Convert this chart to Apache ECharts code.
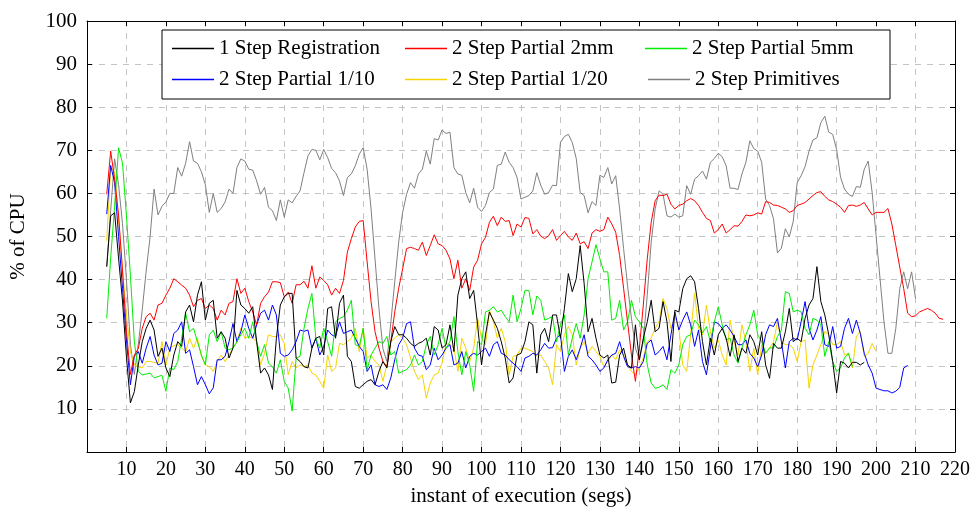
<!DOCTYPE html>
<html>
<head>
<meta charset="utf-8">
<script src="https://cdn.jsdelivr.net/npm/echarts@6/dist/echarts.min.js"></script>
<style>
  html, body { margin: 0; padding: 0; background: #fff; }
  #chart { width: 973px; height: 512px; }
</style>
</head>
<body>
<div id="chart"></div>
<script>
(function() {
  // every series is sampled once per second, starting at t = 5
  var xStart = 5;

  var names = [
    '1 Step Registration', '2 Step Partial 2mm', '2 Step Partial 5mm',
    '2 Step Partial 1/10', '2 Step Partial 1/20', '2 Step Primitives'
  ];
  var colors = ['#000000', '#ff0000', '#00ee00', '#0000ff', '#f5d400', '#808080'];

  var oneStep = [
    43, 54.8, 55.5, 45, 35, 22, 11.4, 14, 20.2, 25.6, 28.7, 30.6, 28.3, 22.2, 24.1, 19.5,
    17.5, 22.5, 25.6, 24.5, 32.5, 34.1, 30.2, 36.4, 39.5, 30.6, 34.5, 35.2, 26.4, 27.9,
    26.4, 21.8, 24.1, 37.5, 34.1, 33.3, 32.2, 33.7, 25.6, 18.3, 19.5, 17.9, 14.5, 26.4,
    34.1, 36, 36.8, 36.8, 21.8, 21, 19.8, 19.5, 24.1, 26.4, 26.8, 22.5, 33.3, 33.7,
    26.4, 34.5, 36.4, 22.2, 21, 15.2, 14.8, 15.6, 16.4, 16.8, 15.6, 18.7, 21, 19.5,
    25.6, 29.1, 27.2, 27.2, 26.4, 25.2, 24.5, 25.2, 25.6, 26.4, 22.5, 29.1, 28.3, 24.1,
    24.9, 29.5, 23.3, 36.4, 40.2, 41.8, 35.6, 37.5, 29.5, 20.2, 27.2, 32.5, 30.6, 28.7,
    25.6, 21.8, 16, 17.2, 22.5, 22.9, 25.6, 30.2, 29.5, 18.3, 27.2, 28.7, 25.6, 31.8,
    31.8, 26.4, 33.3, 41.4, 37.2, 40.2, 47.9, 39.1, 27.9, 31, 26.4, 22.5, 21.8, 22.5,
    16, 16.2, 22.5, 24.1, 20.2, 19.5, 29.5, 21.4, 26.4, 30.2, 35.2, 27.9, 28.7, 34.9,
    30.2, 21, 32.9, 32.5, 37.9, 40.2, 40.9, 39.5, 33.3, 25.6, 20.2, 26.4, 22.5, 27.2,
    28.7, 26.4, 22.2, 27.2, 21, 24.1, 22.9, 27.2, 25.6, 22.5, 27.9, 20.2, 17.1, 25.2,
    24.1, 24.1, 27.9, 33.3, 25.6, 26.4, 25.6, 31, 34.1, 35.6, 43, 34.9, 31.8, 27.2,
    21, 13.7, 21, 20.6, 19.5, 20.8, 20.8, 20.2, 20.8
  ];

  var partial2mm = [
    59.8, 69.8, 63.3, 55, 42, 28, 18, 22.5, 24, 28.7, 31.4, 32.2, 30.6, 34.1, 34.5, 36.4,
    38, 40.2, 39.5, 38.7, 38, 36.4, 33.7, 35.2, 35.6, 33.3, 34.1, 33.3, 30.6, 32.9,
    31.8, 34.5, 34.9, 40.2, 36.8, 38, 34.9, 32.5, 29.5, 34.5, 36, 37.1, 39.5, 39.5,
    39.3, 36, 37.1, 34.5, 38.8, 38.8, 39.6, 38, 43.2, 38, 40.6, 39.8, 38.8, 36.4, 38,
    36.8, 39.8, 46.4, 49.5, 52.2, 53.5, 53.7, 44.1, 34.9, 27.9, 24.1, 21, 19.8, 25.6,
    32.5, 38, 42.5, 47.2, 47.5, 47.2, 46.8, 48.7, 45.6, 47.9, 50.4, 48.3, 47.9, 46.8,
    44.8, 40.2, 44.5, 38, 40.2, 37.5, 42.9, 44.5, 48.3, 49.8, 53.3, 54.7, 52.5, 54.5,
    53.5, 53.7, 50.2, 52.9, 52.2, 54.4, 54.2, 50.6, 51.6, 50.1, 49.5, 50.2, 51.6, 49.1,
    50.2, 51.2, 49.9, 49.1, 50.8, 48.3, 48.8, 47.2, 50.8, 51.6, 51.2, 51.6, 54.5, 52.9,
    51, 45.6, 38, 30.2, 22.5, 16.4, 24.1, 34.1, 44.8, 53.3, 58.3, 59.6, 59.5, 59.8,
    57.5, 56.4, 57.2, 57.5, 58.3, 58.8, 58.3, 57.2, 55.6, 54.2, 53.7, 50.8, 51.6, 52.9,
    50.8, 51.6, 52.5, 52.4, 53.5, 55, 54.8, 55, 55.5, 55.2, 58.1, 57.9, 57.3, 57.2,
    56.8, 56.4, 55.6, 56, 57.2, 57.5, 57.9, 58.7, 59.5, 60.2, 60.4, 59.3, 58.5, 58.1,
    57.5, 56.8, 55.6, 57.2, 57.3, 57, 57.3, 57.9, 56.4, 55, 55.6, 55.6, 55.6, 56.5,
    52.9, 47.9, 42.9, 37.9, 32.2, 31.4, 31.6, 32.5, 32.9, 33.3, 32.9, 32.2, 31, 30.8
  ];

  var partial5mm = [
    31, 45, 57, 70.6, 67, 54.8, 41, 25.6, 18.7, 17.9, 18.1, 18.3, 17.2, 17.5, 17.8, 14.1,
    19.5, 19.1, 21, 26.4, 32.2, 27.9, 28.7, 25.6, 22.5, 20.2, 27.2, 28.3, 25.6, 27.9,
    24.1, 23.7, 24.1, 25.6, 27.2, 28.7, 26.4, 30.2, 25.6, 22.2, 24.9, 20.6, 19.8, 18.3,
    21.4, 16.4, 14.8, 9.5, 21.8, 22.2, 28.7, 33.3, 36.8, 26.4, 24.1, 28.7, 25.6, 22.2,
    30.2, 31, 31.4, 32.9, 35.2, 24.9, 24.5, 28.7, 19.1, 22.5, 24.1, 25.6, 25.2, 26.8,
    22.5, 23.3, 18.3, 18.7, 19.1, 20.2, 22.5, 20.2, 21, 24.9, 26.8, 22.5, 24.9, 28.7,
    24.1, 25.6, 31.4, 23.3, 17.9, 23.3, 20.2, 14.1, 25.6, 24.9, 32.5, 32.9, 33.7, 32.5,
    32.9, 31.4, 30.2, 36.4, 30.2, 33.3, 37.5, 37.5, 31.8, 36.2, 35.2, 30.6, 31, 31.4,
    25.6, 29.5, 31.8, 22.5, 26.4, 29.8, 26.4, 31.8, 40.2, 44.1, 48.1, 44.8, 41.8, 41.8,
    30.6, 31, 35.2, 28.3, 30.2, 35.2, 31.4, 30.2, 28.7, 20.2, 16, 14.8, 15, 15.6, 14.5,
    19.1, 18.3, 20.2, 24.9, 26.8, 27.2, 30.6, 29.5, 27.6, 29.1, 25.6, 30.2, 33.7, 29.5,
    26, 26.4, 22.5, 20.6, 24.1, 27.2, 29.5, 32.9, 27.2, 25.6, 22.9, 24.2, 24.1, 26.8,
    28.3, 37.2, 36.8, 32.5, 32.9, 32.5, 28.7, 27.2, 31, 30.6, 29.5, 22.2, 25.6, 21,
    18.7, 19.5, 21.8, 22.9, 19.8
  ];

  var partial110 = [
    55.2, 66.5, 62.5, 50, 38, 26, 15.6, 22.2, 23.3, 20.6, 24.1, 26.8, 22.5, 20.2, 20.6, 25.6,
    23.3, 27.5, 28.3, 30.2, 22.9, 23.7, 19.8, 15.6, 17.5, 15.6, 13.5, 14.9, 21.4, 21.4,
    22.2, 25.6, 29.8, 25.6, 27.9, 31.8, 28.7, 26.4, 29.5, 32.2, 32.9, 30.6, 34.1, 31.8,
    22.9, 22.2, 22.5, 23.7, 25.6, 28.3, 28, 28.3, 24.1, 26.4, 22.5, 24.5, 28.3, 27.2,
    26.8, 30.2, 27.5, 27.9, 28.3, 26.4, 24.5, 23.3, 18.7, 20.2, 15.6, 15.2, 15.6, 14.5,
    17.2, 21.4, 24.9, 26.4, 29.8, 30.2, 24.1, 22.5, 22.2, 19.1, 20.2, 24.1, 21.4, 22.5,
    24.1, 24.9, 20.2, 20.6, 23.3, 19.5, 22.2, 22.9, 22.5, 23.3, 24.1, 22.2, 24.9, 25.6,
    22.9, 22.5, 21.4, 20.6, 19.8, 18.7, 21.8, 22.2, 22.9, 22.5, 23.7, 25.2, 24.1, 24.2,
    26.4, 27.2, 18.7, 22.2, 23.7, 21.4, 24.1, 27.2, 22.2, 21.4, 20.2, 18.7, 19.5, 21.4,
    22.5, 22.9, 25.6, 22.2, 19.8, 19.5, 19.8, 19.5, 21, 25.2, 26, 22.5, 23.3, 24.5, 21.4,
    27.2, 32.5, 28.3, 30.6, 32.5, 29.5, 24.5, 28.3, 21, 17.9, 24.1, 30.2, 29.8, 28.7,
    29.5, 28.3, 26.8, 24.9, 24.9, 26, 22.9, 21.8, 19.8, 22.5, 27.2, 29.5, 29.1, 31,
    25.6, 19.5, 25.6, 26.4, 26, 30.2, 34.9, 28.7, 26, 28.3, 31.4, 24.9, 24.5, 29.1,
    24.1, 24.5, 28.7, 31, 27.5, 30.6, 27.5, 22.9, 20.2, 18.3, 14.8, 14.5, 14.2, 14.2,
    13.7, 14.1, 15, 19.5, 20.1
  ];

  var partial120 = [
    49, 66, 65, 54, 42.5, 31.8, 23.3, 20.2, 19.8, 19.5, 21, 21, 20.8, 20.6, 25.6, 20.2,
    24.1, 24.7, 24.9, 24.1, 23.3, 26.4, 24.1, 26.4, 22.2, 20.2, 19.8, 18.7, 21, 22.5,
    21, 22.5, 24.1, 25.6, 28.7, 26.4, 26.8, 26.4, 25.6, 20.2, 22.9, 27.2, 26.8, 26.8,
    27.2, 25.2, 17.9, 21, 19.5, 20.2, 19.8, 20.2, 18.3, 17.9, 16.4, 14.8, 22.5, 18.7,
    19.5, 25.2, 24.9, 25.6, 26.4, 28.7, 23.3, 28.7, 21.8, 22.5, 21, 20.2, 16.4, 20.2,
    25.6, 26.4, 27.2, 26.4, 24.9, 21.8, 18.7, 16.8, 17.9, 12.5, 16, 17.9, 18.3, 20.6,
    25.2, 24.9, 24.1, 18.7, 26.4, 24.1, 21, 24.1, 31, 26.4, 24.9, 32.9, 30.2, 26.4,
    28.7, 25.6, 17.9, 22.2, 22.5, 24.1, 24.1, 23.7, 23.3, 22.2, 22.5, 21, 19.5, 15.6,
    24.9, 23.3, 27.2, 29.1, 27.2, 20.2, 24.1, 25.6, 22.9, 24.5, 23.3, 22.2, 19.8, 21,
    22.5, 21.4, 23.7, 22.5, 20.2, 18.7, 17.9, 19.5, 21.8, 25.6, 26.4, 28.7, 30.2, 35.6,
    33.3, 28.7, 31.4, 28.7, 20.2, 18.7, 27.2, 36.8, 28.7, 27.2, 34.1, 27.9, 24.1, 26,
    22.5, 20.2, 30.6, 25.6, 22.5, 29.5, 25.6, 18.7, 24.1, 17.9, 24.9, 22.9, 24.1, 25.6,
    30.2, 25.6, 24.9, 24.9, 24.1, 21, 25.6, 26, 14.8, 20.2, 22.5, 24.9, 28, 27.2, 24.9,
    24.9, 25.6, 22.5, 22.9, 19.5, 26.8, 28, 22.2, 22.9, 25.2, 23.3
  ];

  var primitives = [
    43, 56, 68, 62, 53, 40, 25, 18, 25, 33, 42, 50, 61, 55, 57, 58,
    60, 60, 66, 64, 67, 72, 67.5, 67, 65, 62, 55.6, 60, 55.6, 56.5,
    58, 61, 60, 66, 68, 67.5, 65.6, 65.4, 62.9, 59.8, 61.4, 56.8, 56, 53.7,
    58.5, 54.5, 58.5, 57.8, 59.3, 60.6, 64.8, 68.7, 70.2, 70, 67.8, 70.2, 68.3, 65.8,
    64.8, 62.9, 59.5, 63.7, 64.5, 66.4, 69.1, 70.6, 65.6, 56.4, 44.8, 33.3, 24, 21,
    30, 39.5, 48.7, 55.6, 59.8, 62.5, 61.2, 64.5, 65.6, 69.8, 66.8, 72.7, 72.4, 74.7,
    73.9, 74.2, 66, 64.5, 64.2, 60.2, 57.8, 61.2, 56.8, 55.8, 57.2, 60.2, 61, 66.5,
    66.8, 69.6, 67.2, 66, 63.7, 58.7, 59.1, 59.5, 60.6, 64.8, 61.9, 59.8, 60.2, 61.9,
    61.8, 71.8, 73.2, 73.7, 71.8, 68.1, 60.2, 59.5, 55.5, 58.1, 57.2, 64.2, 63.7, 66,
    62.2, 64.1, 56.4, 47.2, 38.7, 31, 24.1, 21.4, 25.6, 36.4, 48.7, 56.4, 60.6, 59.8,
    54.8, 54.5, 55.2, 54.5, 54.8, 61.8, 59.8, 63.3, 64.1, 65.2, 63.3, 67.2, 68.1, 69.3,
    68.5, 66.4, 61.2, 61.2, 60.9, 64.5, 67.2, 72.2, 70.4, 69.8, 67.2, 58.7, 57.2, 54.1,
    46.2, 47.3, 51.8, 49.9, 53.5, 62.5, 64.1, 66.2, 69.8, 72.4, 72.9, 76.4, 77.9, 74.2,
    73.7, 70.2, 63.7, 61, 59.8, 59.3, 61.6, 61.4, 65.6, 67.5, 60.2, 50.2, 40.2, 30.2,
    22.9, 22.9, 28.7, 37.9, 41.8, 37.9, 41.8, 35.6
  ];

  var xTicks = { min: 0, max: 220, interval: 10 };
  var yTicks = { min: 0, max: 100, interval: 10 };

  var allData = [oneStep, partial2mm, partial5mm, partial110, partial120, primitives];

  function pts(arr) {
    return arr.map(function(v, i) { return [xStart + i, v]; });
  }

  var font = 'Liberation Serif';
  var grid = { left: 87, right: 18, top: 21, bottom: 57 };

  var gridLine = { show: true, lineStyle: { color: '#c4c4c4', type: [6, 6], width: 1 } };
  var frame = { show: true, onZero: false, lineStyle: { color: '#000', width: 1 } };
  var ticks = { show: true, inside: true, length: 5, lineStyle: { color: '#000' } };
  function noZero(v) { return v === 0 ? '' : String(v); }

  var series = allData.map(function(arr, i) {
    return {
      name: names[i],
      type: 'line',
      data: pts(arr),
      showSymbol: false,
      symbol: 'none',
      color: colors[i],
      lineStyle: { width: 1, color: colors[i] },
      z: 10 - i
    };
  });

  // legend: six single-entry legends laid out as in the 3 x 2 box
  var legendPos = [
    { left: 172, top: 38 }, { left: 405, top: 38 }, { left: 645, top: 38 },
    { left: 172, top: 69 }, { left: 405, top: 69 }, { left: 648, top: 69 }
  ];
  var legends = names.map(function(n, i) {
    return {
      data: [n],
      left: legendPos[i].left,
      top: legendPos[i].top,
      icon: 'rect',
      itemWidth: 42,
      itemHeight: 1.5,
      padding: 0,
      selectedMode: false,
      z: 200,
      textStyle: { fontFamily: font, fontSize: 21, color: '#000' }
    };
  });

  var chart = echarts.init(document.getElementById('chart'), null, { renderer: 'canvas' });
  chart.setOption({
    animation: false,
    backgroundColor: '#fff',
    textStyle: { fontFamily: font },
    grid: grid,
    legend: legends,
    graphic: {
      elements: [{
        type: 'rect',
        z: 50,
        shape: { x: 162, y: 30, width: 728, height: 69 },
        style: { fill: '#fff', stroke: '#000', lineWidth: 1 }
      }]
    },
    xAxis: [{
      type: 'value',
      min: xTicks.min, max: xTicks.max, interval: xTicks.interval,
      name: 'instant of execution (segs)',
      nameLocation: 'middle',
      nameGap: 34,
      nameTextStyle: { fontFamily: font, fontSize: 21, color: '#000' },
      axisLine: frame,
      axisTick: ticks,
      axisLabel: { fontFamily: font, fontSize: 20, color: '#000', margin: 8, formatter: noZero },
      splitLine: gridLine
    }, {
      type: 'value', position: 'top',
      min: xTicks.min, max: xTicks.max, interval: xTicks.interval,
      axisLine: frame, axisTick: ticks,
      axisLabel: { show: false }, splitLine: { show: false }
    }],
    yAxis: [{
      type: 'value',
      min: yTicks.min, max: yTicks.max, interval: yTicks.interval,
      name: '% of CPU',
      nameLocation: 'middle',
      nameGap: 58,
      nameTextStyle: { fontFamily: font, fontSize: 21, color: '#000' },
      axisLine: frame,
      axisTick: ticks,
      axisLabel: { fontFamily: font, fontSize: 21, color: '#000', margin: 10, formatter: noZero },
      splitLine: gridLine
    }, {
      type: 'value', position: 'right',
      min: yTicks.min, max: yTicks.max, interval: yTicks.interval,
      axisLine: frame, axisTick: ticks,
      axisLabel: { show: false }, splitLine: { show: false }
    }],
    series: series
  });
  window.addEventListener('resize', function() { chart.resize(); });
})();
</script>
</body>
</html>
